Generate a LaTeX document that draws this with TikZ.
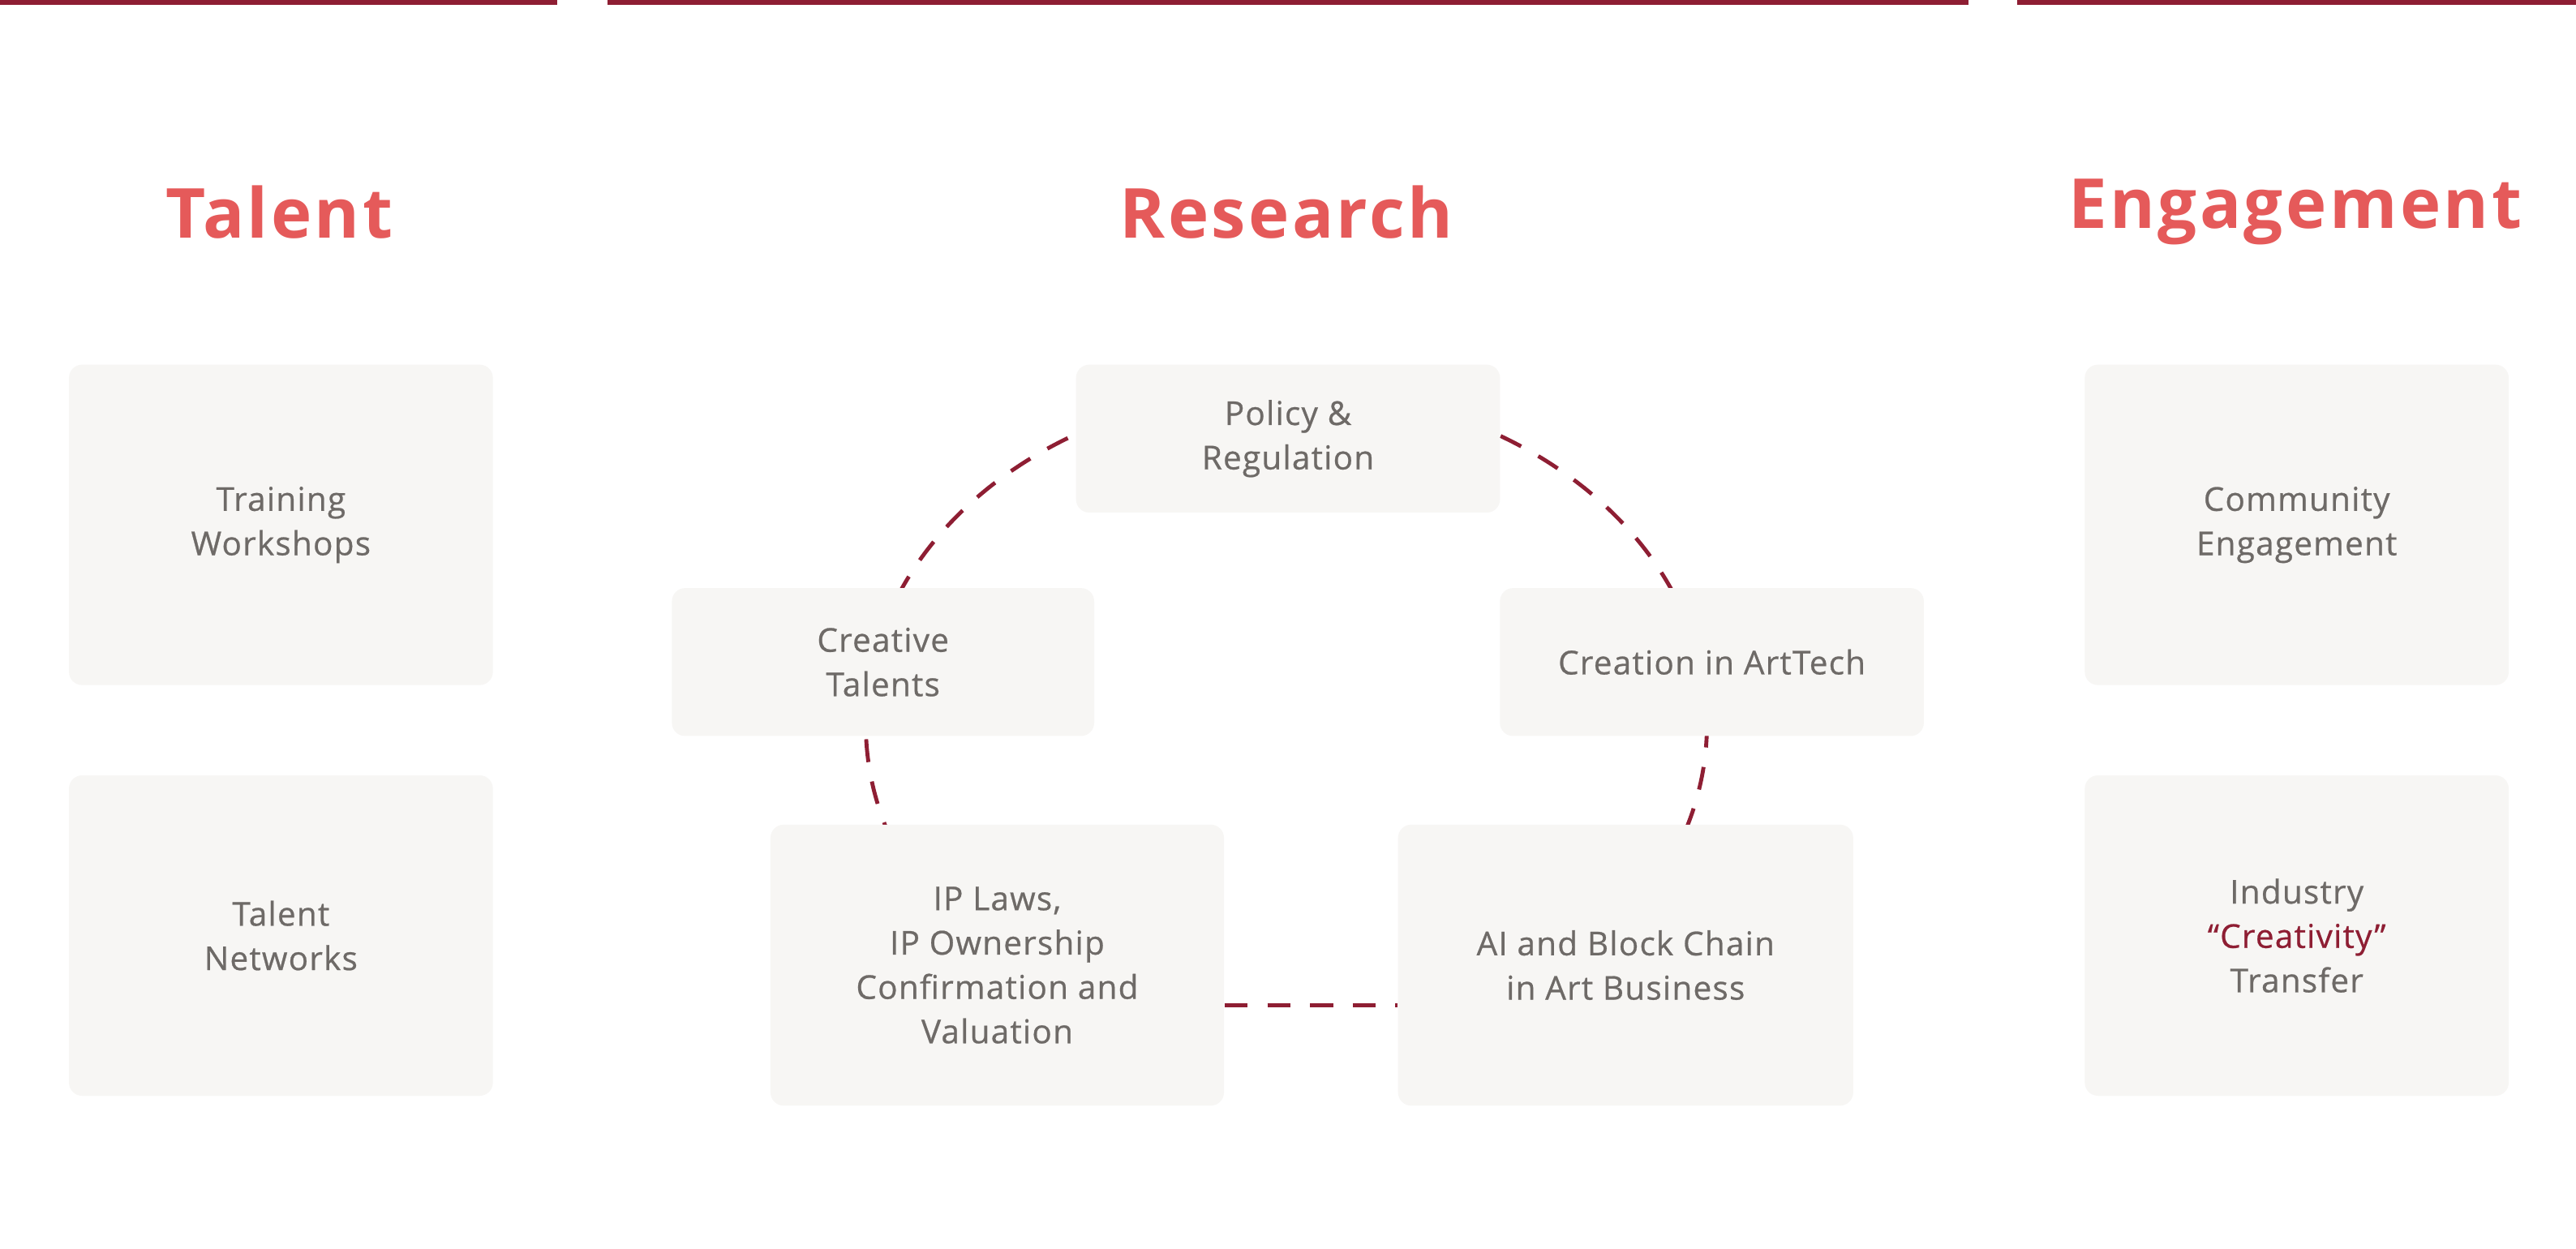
\documentclass[tikz,border=0pt]{standalone}
\usepackage{fontspec}
\setmainfont{Open Sans}[LetterSpace=3]
\newfontfamily\headfont{Open Sans}[LetterSpace=4]
\begin{document}
\definecolor{wine}{HTML}{8E1E33}
\definecolor{headred}{HTML}{E55A5A}
\definecolor{boxgray}{HTML}{F7F6F4}
\definecolor{txtgray}{HTML}{6E6A67}
\begin{tikzpicture}[x=0.5pt,y=-0.5pt,
  box/.style={fill=boxgray,draw=none,rounded corners=4pt,align=center,text=txtgray,
    font=\fontsize{10}{13.5}\selectfont\addfontfeature{FakeBold=0.6}},
  head/.style={text=headred,font=\headfont\fontsize{21}{24}\selectfont\bfseries},
  topline/.style={draw=wine,line width=1.5pt},
  link/.style={draw=wine,line width=1.2pt,dash pattern=on 7pt off 6pt}]
\useasboundingbox (0,0) rectangle (1568,760);
\fill[white] (0,0) rectangle (1568,760);
\coordinate (l1a) at (0,1.5); \coordinate (l1b) at (339,1.5);
\coordinate (l2a) at (370,1.5); \coordinate (l2b) at (1198,1.5);
\coordinate (l3a) at (1228,1.5); \coordinate (l3b) at (1568,1.5);
\draw[topline] (l1a) -- (l1b);
\draw[topline] (l2a) -- (l2b);
\draw[topline] (l3a) -- (l3b);
\node[head] (h1) at (170,129) {Talent};
\node[head] (h2) at (783,129) {Research};
\node[head] (h3) at (1397,129) {Engagement};
% dashed ring
\begin{scope}
\clip (300,150) rectangle (1250,530);
\draw[link] (783,441) ellipse [x radius=256, y radius=204];
\end{scope}
\node[box,minimum width=129pt,minimum height=97.5pt] (tw) at (171,319.5) {Training\\Workshops};
\node[box,minimum width=129pt,minimum height=97.5pt] (tn) at (171,569.5) {Talent\\Networks};
\node[box,minimum width=129pt,minimum height=97.5pt] (ce) at (1398,319.5) {Community\\Engagement};
\node[box,minimum width=129pt,minimum height=97.5pt] (it) at (1398,569.5) {Industry\\{\color{wine}“Creativity”}\\Transfer};
\node[box,minimum width=129pt,minimum height=45pt] (pr) at (784,267) {Policy \&\\Regulation};
\node[box,minimum width=128.5pt,minimum height=45pt] (ct) at (537.5,403) {Creative\\Talents};
\node[box,minimum width=129pt,minimum height=45pt] (ca) at (1042,403) {Creation in ArtTech};
\node[box,minimum width=138pt,minimum height=85.5pt] (ip) at (607,587.5) {IP Laws,\\IP Ownership\\Confirmation and\\Valuation};
\node[box,minimum width=138.5pt,minimum height=85.5pt] (ai) at (989.5,587.5) {AI and Block Chain\\in Art Business};
\draw[link] (ip.east |- 0,612) -- (ai.west |- 0,612);
\end{tikzpicture}
\end{document}
